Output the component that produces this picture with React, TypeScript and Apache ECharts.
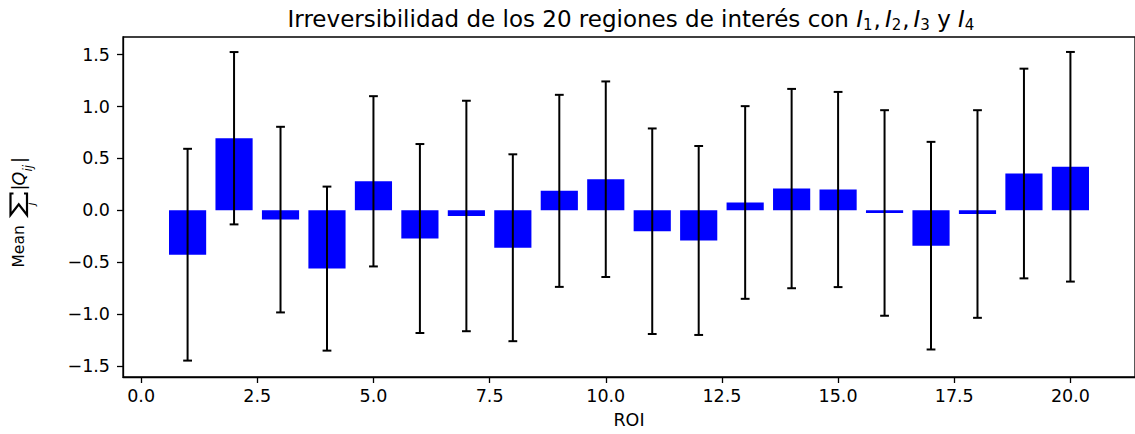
import React, { useEffect, useRef } from "react";
import * as echarts from "echarts";

// Regions of interest (ROI) 1..20
const roi: number[] = [1, 2, 3, 4, 5, 6, 7, 8, 9, 10, 11, 12, 13, 14, 15, 16, 17, 18, 19, 20];

// Mean irreversibility per region
const meanValues: number[] = [
  -0.427, 0.695, -0.089, -0.561, 0.28, -0.271, -0.054, -0.36, 0.188, 0.3,
  -0.201, -0.29, 0.076, 0.21, 0.201, -0.025, -0.34, -0.035, 0.355, 0.42,
];

// Standard deviation per region (error bar half-length)
const stdValues: number[] = [
  1.02, 0.83, 0.894, 0.79, 0.82, 0.91, 1.11, 0.9, 0.925, 0.942,
  0.99, 0.91, 0.928, 0.96, 0.94, 0.99, 1.0, 1.0, 1.01, 1.106,
];

const xTicks: number[] = [0, 2.5, 5, 7.5, 10, 12.5, 15, 17.5, 20];
const yTicks: number[] = [-1.5, -1, -0.5, 0, 0.5, 1, 1.5];

const FONT = "DejaVu Sans";
const TICK_FONT = 17.5;
const fmt = (v: number) => v.toFixed(1).replace("-", "\u2212");

export default function App() {
  const ref = useRef<HTMLDivElement>(null);

  useEffect(() => {
    if (!ref.current) return;
    const chart = echarts.init(ref.current, null, { renderer: "svg" });

    const barData = roi.map((r, i) => [r, meanValues[i]]);
    const errData = roi.map((r, i) => [r, meanValues[i] - stdValues[i], meanValues[i] + stdValues[i]]);

    const axisLine = { show: true, onZero: false, lineStyle: { color: "#000", width: 1.3 } };
    const tickStyle = { show: true, length: 6, lineStyle: { color: "#000", width: 1.3 } };
    const labelStyle = { color: "#000", fontFamily: FONT, fontSize: TICK_FONT };

    // Summation sign for the y-axis label, drawn in text-local coordinates
    const sx0 = -7.5;
    const sx1 = 14;
    const sy0 = -9.5;
    const sy1 = 7;
    const sumPoints = [
      [sx1, sy0 + 3],
      [sx1, sy0],
      [sx0, sy0],
      [sx0 + (sx1 - sx0) * 0.5, (sy0 + sy1) / 2],
      [sx0, sy1],
      [sx1, sy1],
      [sx1, sy1 - 3],
    ];

    chart.setOption({
      animation: false,
      backgroundColor: "#fff",
      grid: {
        left: 123,
        right: -4,
        top: 37,
        bottom: 53,
        show: true,
        borderColor: "#000",
        borderWidth: 1.3,
        backgroundColor: "transparent",
      },
      xAxis: {
        type: "value",
        min: -0.39,
        max: 21.39,
        axisLine,
        splitLine: { show: false },
        axisTick: { ...tickStyle, customValues: xTicks },
        axisLabel: {
          ...labelStyle,
          customValues: xTicks,
          formatter: (v: number) => fmt(v),
          margin: 10,
        },
        name: "ROI",
        nameLocation: "middle",
        nameGap: 34,
        nameTextStyle: { color: "#000", fontFamily: FONT, fontSize: TICK_FONT },
      },
      yAxis: {
        type: "value",
        min: -1.605,
        max: 1.67,
        axisLine,
        splitLine: { show: false },
        axisTick: { ...tickStyle, customValues: yTicks },
        axisLabel: {
          ...labelStyle,
          customValues: yTicks,
          formatter: (v: number) => fmt(v),
          margin: 13,
        },
      },
      graphic: [
        {
          type: "text",
          x: 631,
          y: 18.5,
          style: {
            text:
              "Irreversibilidad de los 20 regiones de interés con {i|I}{s|1}{n|,}{i|I}{s|2}{n|,}{i|I}{s|3} y {i|I}{s|4}",
            fill: "#000",
            fontFamily: FONT,
            fontSize: 23,
            align: "center",
            verticalAlign: "middle",
            rich: {
              i: { fontFamily: FONT, fontSize: 23, fontStyle: "italic", fill: "#000" },
              s: { fontFamily: FONT, fontSize: 15, padding: [12, 0, 0, 0], fill: "#000" },
              n: { fontFamily: FONT, fontSize: 23, fill: "#000", padding: [0, 4, 0, 1] },
            },
          },
        },
        {
          type: "group",
          x: 20,
          y: 207.5,
          rotation: Math.PI / 2,
          children: [
            {
              type: "text",
              x: -60,
              y: -1,
              style: {
                text: "Mean",
                fill: "#000",
                fontFamily: FONT,
                fontSize: 15.5,
                align: "left",
                verticalAlign: "middle",
              },
            },
            {
              type: "polyline",
              shape: { points: sumPoints },
              style: { stroke: "#000", lineWidth: 2.2, fill: "none", lineJoin: "miter" },
            },
            {
              type: "text",
              x: 3.5,
              y: 11.5,
              style: {
                text: "j",
                fill: "#000",
                fontFamily: FONT,
                fontSize: 11,
                fontStyle: "italic",
                align: "center",
                verticalAlign: "middle",
              },
            },
            {
              type: "text",
              x: 17,
              y: -1,
              style: {
                text: "|",
                fill: "#000",
                fontFamily: FONT,
                fontSize: 17.5,
                align: "left",
                verticalAlign: "middle",
              },
            },
            {
              type: "text",
              x: 22,
              y: -1,
              style: {
                text: "Q",
                fill: "#000",
                fontFamily: FONT,
                fontSize: 17.5,
                fontStyle: "italic",
                align: "left",
                verticalAlign: "middle",
              },
            },
            {
              type: "text",
              x: 36,
              y: 8,
              style: {
                text: "ij",
                fill: "#000",
                fontFamily: FONT,
                fontSize: 12,
                fontStyle: "italic",
                align: "left",
                verticalAlign: "middle",
              },
            },
            {
              type: "text",
              x: 44.5,
              y: -1,
              style: {
                text: "|",
                fill: "#000",
                fontFamily: FONT,
                fontSize: 17.5,
                align: "left",
                verticalAlign: "middle",
              },
            },
          ],
        },
      ],
      series: [
        {
          type: "custom",
          name: "mean",
          data: barData,
          encode: { x: 0, y: 1 },
          renderItem: (_params: any, api: any) => {
            const x = api.value(0);
            const v = api.value(1);
            const p0 = api.coord([x - 0.4, 0]);
            const p1 = api.coord([x + 0.4, v]);
            return {
              type: "rect",
              shape: {
                x: p0[0],
                y: Math.min(p0[1], p1[1]),
                width: p1[0] - p0[0],
                height: Math.abs(p1[1] - p0[1]),
              },
              style: { fill: "#0000ff" },
            };
          },
          z: 2,
        },
        {
          type: "custom",
          name: "std",
          data: errData,
          encode: { x: 0, y: [1, 2] },
          renderItem: (_params: any, api: any) => {
            const x = api.value(0);
            const lo = api.coord([x, api.value(1)]);
            const hi = api.coord([x, api.value(2)]);
            const cap = 4.4;
            const st = { stroke: "#000", lineWidth: 2 };
            return {
              type: "group",
              children: [
                { type: "line", shape: { x1: lo[0], y1: lo[1], x2: hi[0], y2: hi[1] }, style: st },
                { type: "line", shape: { x1: lo[0] - cap, y1: lo[1], x2: lo[0] + cap, y2: lo[1] }, style: st },
                { type: "line", shape: { x1: hi[0] - cap, y1: hi[1], x2: hi[0] + cap, y2: hi[1] }, style: st },
              ],
            };
          },
          z: 3,
        },
      ],
    });

    return () => chart.dispose();
  }, []);

  return (
    <div
      ref={ref}
      style={{ position: "fixed", left: 0, top: 0, width: 1135, height: 434 }}
    />
  );
}
